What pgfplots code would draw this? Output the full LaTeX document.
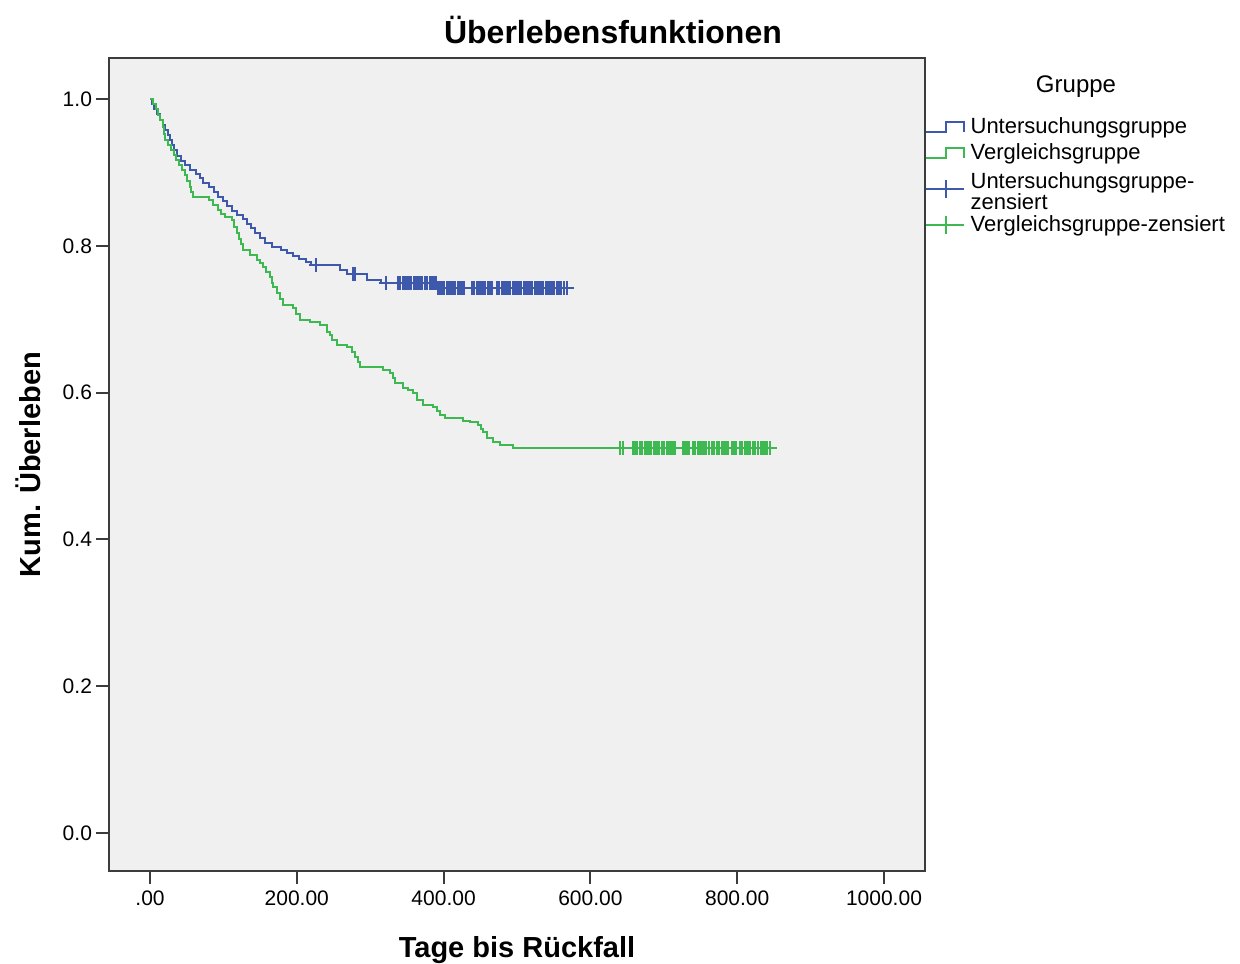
\documentclass[border=0pt]{standalone}
\usepackage{fontspec}
\setmainfont{Liberation Sans}
\usepackage{pgfplots}
\pgfplotsset{compat=1.18}
\definecolor{spssblue}{RGB}{62,88,172}
\definecolor{spssgreen}{RGB}{62,184,80}
\definecolor{plotbg}{RGB}{240,240,240}
\definecolor{framec}{RGB}{60,60,60}
\begin{document}
\begin{tikzpicture}
\begin{axis}[
  name=ax, clip mode=individual,
  scale only axis, width=408pt, height=406.5pt,
  xmin=-55.9, xmax=1055.9, ymin=-0.0518, ymax=1.056,
  axis background/.style={fill=plotbg},
  axis line style={framec, line width=1pt},
  tick align=outside, tick pos=left, major tick length=6.5pt,
  tick style={framec, line width=1pt},
  xtick={0,200,400,600,800,1000},
  xticklabels={.00,200.00,400.00,600.00,800.00,1000.00},
  ytick={0,0.2,0.4,0.6,0.8,1},
  yticklabels={0.0,0.2,0.4,0.6,0.8,1.0},
  ticklabel style={font=\fontsize{10.5pt}{12pt}\selectfont, text=black},
  yticklabel style={xshift=1.5pt},
  xlabel={Tage bis Rückfall}, ylabel={Kum. Überleben},
  every axis x label/.style={at={(axis description cs:0.5,-0.1058)}, anchor=base,
    font=\bfseries\fontsize{14.5pt}{17pt}\selectfont},
  every axis y label/.style={at={(axis description cs:-0.0985,0.5)}, rotate=90, anchor=center,
    font=\bfseries\fontsize{14.5pt}{17pt}\selectfont},
  title={Überlebensfunktionen},
  every axis title/.style={at={(axis description cs:0.6176,1)}, anchor=base, yshift=7pt,
    font=\bfseries\fontsize{16pt}{19pt}\selectfont},
  legend cell align=left,
  legend style={at={(axis description cs:1,0.931)}, anchor=north west, draw=none, fill=none,
    inner sep=0pt, outer sep=0pt, row sep=0pt, column sep=0pt,
    font=\fontsize{11pt}{10.5pt}\selectfont,
    nodes={align=left, minimum height=13pt, inner sep=0pt, inner xsep=3pt}},
]
\addplot[const plot, spssblue, line width=1pt,
  legend image code/.code={\draw[spssblue, line width=0.8pt] (0pt,-2.5pt) -- (10pt,-2.5pt) -- (10pt,2.5pt) -- (19pt,2.5pt) -- (19pt,-2.5pt);}]
coordinates {(0,1.000)(3,0.993)(6,0.986)(9,0.979)(13,0.972)(17,0.965)(20,0.958)(24,0.951)(27,0.944)(30,0.937)(33,0.930)(37,0.923)(42,0.916)(48,0.910)(55,0.904)(62,0.898)(68,0.892)(72,0.886)(80,0.880)(87,0.874)(93,0.867)(99,0.861)(105,0.854)(112,0.848)(118,0.842)(126,0.836)(132,0.830)(138,0.824)(143,0.817)(150,0.811)(157,0.804)(166,0.799)(178,0.795)(187,0.790)(195,0.786)(203,0.782)(212,0.778)(220,0.774)(259,0.767)(268,0.762)(296,0.753)(315,0.749)(391,0.742)(578,0.742)};
\addlegendentry{Untersuchungsgruppe}
\addplot[const plot, spssgreen, line width=1pt,
  legend image code/.code={\draw[spssgreen, line width=0.8pt] (0pt,-2.5pt) -- (10pt,-2.5pt) -- (10pt,2.5pt) -- (19pt,2.5pt) -- (19pt,-2.5pt);}]
coordinates {(0,1.000)(4,0.993)(8,0.986)(11,0.978)(14,0.971)(17,0.962)(19,0.953)(21,0.944)(25,0.937)(29,0.930)(32,0.924)(36,0.917)(40,0.910)(44,0.903)(48,0.896)(51,0.889)(54,0.880)(56,0.873)(59,0.866)(80,0.862)(86,0.856)(92,0.849)(97,0.844)(102,0.839)(112,0.835)(115,0.826)(118,0.818)(121,0.810)(124,0.803)(127,0.794)(136,0.787)(146,0.781)(150,0.776)(154,0.771)(158,0.764)(163,0.757)(166,0.750)(168,0.744)(173,0.736)(177,0.728)(181,0.719)(195,0.715)(199,0.707)(204,0.699)(218,0.696)(232,0.692)(241,0.683)(245,0.678)(248,0.672)(255,0.665)(268,0.662)(275,0.656)(279,0.649)(283,0.642)(286,0.635)(317,0.631)(327,0.627)(331,0.620)(334,0.613)(345,0.606)(352,0.603)(358,0.599)(364,0.590)(372,0.583)(386,0.580)(391,0.575)(395,0.569)(402,0.565)(427,0.562)(436,0.560)(447,0.556)(451,0.551)(454,0.546)(459,0.538)(467,0.533)(477,0.529)(495,0.5245)(851,0.5245)};
\addlegendentry{Vergleichsgruppe}
\addplot[only marks, mark=+, mark size=3.5pt, spssblue, mark options={line width=1pt},
  legend image code/.code={\draw[spssblue, line width=0.8pt] (0pt,0pt) -- (19pt,0pt); \draw[spssblue, line width=0.8pt] (10pt,-4.5pt) -- (10pt,4.5pt);}]
coordinates {(226,0.774)(276,0.762)(279,0.762)(321,0.749)
(338,0.749)(341,0.749)(344,0.749)(347,0.749)(350,0.749)(353,0.749)(356,0.749)(359,0.749)(362,0.749)(365,0.749)(368,0.749)(371,0.749)(374,0.749)(378,0.749)(381,0.749)(384,0.749)(387,0.749)(390,0.749)
(392,0.742)(395,0.742)(398,0.742)(401,0.742)(404,0.742)(407,0.742)(410,0.742)(413,0.742)(416,0.742)(419,0.742)(422,0.742)(425,0.742)(428,0.742)(439,0.742)(442,0.742)(445,0.742)(448,0.742)(451,0.742)(454,0.742)(457,0.742)(460,0.742)(463,0.742)(466,0.742)(473,0.742)(476,0.742)(479,0.742)(482,0.742)(485,0.742)(488,0.742)(491,0.742)(494,0.742)(497,0.742)(500,0.742)(503,0.742)(506,0.742)(509,0.742)(512,0.742)(515,0.742)(518,0.742)(521,0.742)(524,0.742)(527,0.742)(530,0.742)(533,0.742)(536,0.742)(539,0.742)(542,0.742)(545,0.742)(548,0.742)(551,0.742)(554,0.742)(557,0.742)(560,0.742)(564,0.742)(568,0.742)};
\addlegendentry{\rule{0pt}{11pt}Untersuchungsgruppe-\\\rule[-5.8pt]{0pt}{1pt}zensiert}
\addplot[only marks, mark=+, mark size=3.5pt, spssgreen, mark options={line width=1pt},
  legend image code/.code={\draw[spssgreen, line width=0.8pt] (0pt,0pt) -- (19pt,0pt); \draw[spssgreen, line width=0.8pt] (10pt,-4.5pt) -- (10pt,4.5pt);}]
coordinates {(640,0.5245)(644,0.5245)(658,0.5245)(661,0.5245)(664,0.5245)(667,0.5245)(670,0.5245)(674,0.5245)(677,0.5245)(680,0.5245)(683,0.5245)(686,0.5245)(688,0.5245)(691,0.5245)(694,0.5245)(697,0.5245)(700,0.5245)(704,0.5245)(707,0.5245)(710,0.5245)(713,0.5245)(715,0.5245)(726,0.5245)(729,0.5245)(732,0.5245)(735,0.5245)(740,0.5245)(743,0.5245)(746,0.5245)(749,0.5245)(752,0.5245)(755,0.5245)(758,0.5245)(761,0.5245)(766,0.5245)(769,0.5245)(772,0.5245)(775,0.5245)(779,0.5245)(782,0.5245)(785,0.5245)(788,0.5245)(793,0.5245)(796,0.5245)(799,0.5245)(804,0.5245)(807,0.5245)(810,0.5245)(813,0.5245)(815,0.5245)(818,0.5245)(821,0.5245)(824,0.5245)(828,0.5245)(832,0.5245)(835,0.5245)(838,0.5245)(841,0.5245)(845,0.5245)};
\addlegendentry{Vergleichsgruppe-zensiert}
\end{axis}
\node[font=\fontsize{12pt}{14pt}\selectfont, anchor=center] at ([xshift=75.5pt,yshift=-14.5pt]ax.north east) {Gruppe};
\pgfresetboundingbox
\path[use as bounding box] ([xshift=-54.5pt,yshift=-46pt]ax.south west) rectangle ([xshift=157.5pt,yshift=29pt]ax.north east);
\end{tikzpicture}
\end{document}
